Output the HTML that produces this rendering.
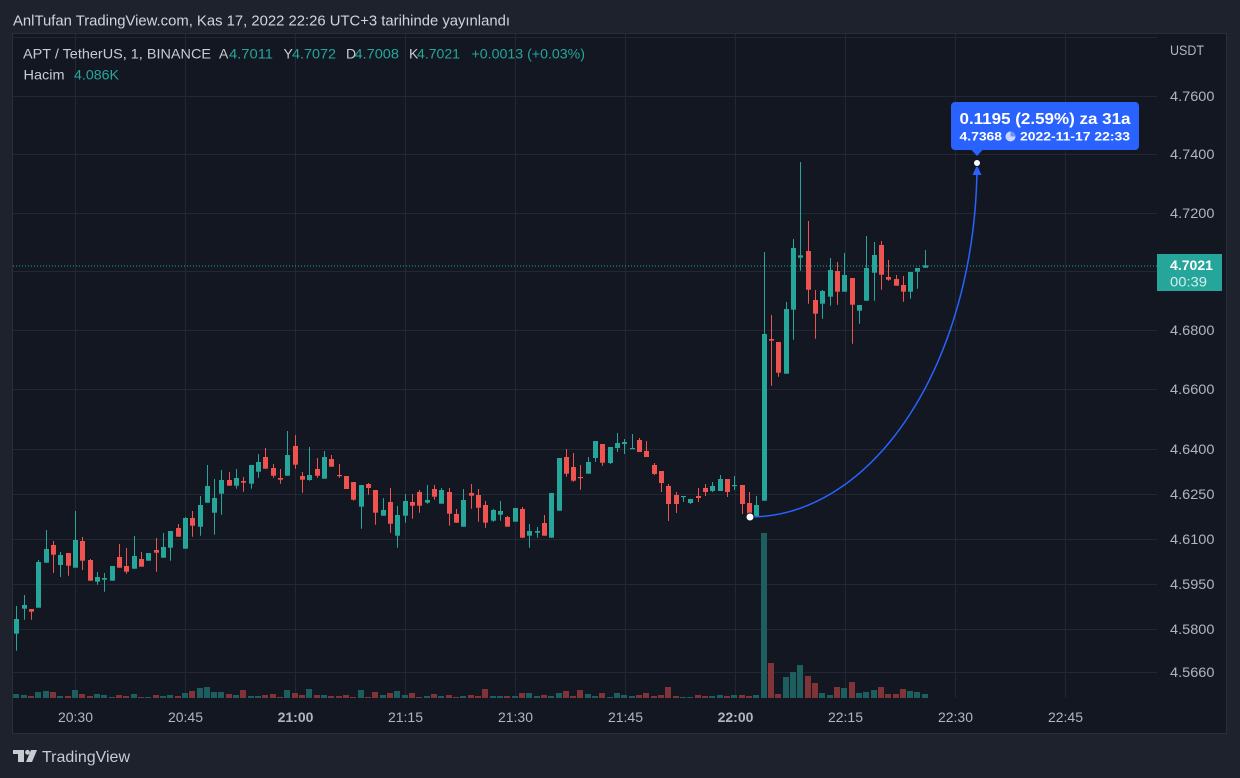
<!DOCTYPE html>
<html><head><meta charset="utf-8"><style>
html,body{margin:0;padding:0;background:#1e222d;}
svg{display:block;}
text{font-family:"Liberation Sans",sans-serif;}
</style></head><body>
<svg width="1240" height="778" viewBox="0 0 1240 778" xmlns="http://www.w3.org/2000/svg">
<rect x="0" y="0" width="1240" height="778" fill="#1e222d"/>
<text x="13" y="25.5" font-size="14.5" fill="#d1d4dc" textLength="497" lengthAdjust="spacingAndGlyphs">AnlTufan TradingView.com, Kas 17, 2022 22:26 UTC+3 tarihinde yayınlandı</text>
<rect x="12.5" y="33.5" width="1214" height="700" fill="#131722" stroke="#2a2e39" stroke-width="1"/>
<defs><clipPath id="pc"><rect x="13" y="34" width="1144" height="664"/></clipPath></defs>
<g stroke="#232733" stroke-width="1" fill="none">
<path d="M13 37.5H1157M13 96.5H1157M13 154.5H1157M13 213.5H1157M13 271.5H1157M13 330.5H1157M13 389.5H1157M13 449.5H1157M13 494.5H1157M13 539.5H1157M13 584.5H1157M13 629.5H1157M13 672.5H1157"/>
<path d="M75.5 34V698M185.5 34V698M295.5 34V698M405.5 34V698M515.5 34V698M625.5 34V698M735.5 34V698M845.5 34V698M955.5 34V698M1065.5 34V698"/>
</g>
<g clip-path="url(#pc)">
<g fill="#1d5e5e">
<rect x="13" y="694" width="6" height="5"/><rect x="21" y="695" width="6" height="4"/><rect x="35" y="692" width="6" height="7"/><rect x="43" y="691" width="6" height="8"/><rect x="57" y="696" width="6" height="3"/><rect x="72" y="690" width="6" height="9"/><rect x="94" y="694" width="6" height="5"/><rect x="101" y="695" width="6" height="4"/><rect x="109" y="697" width="6" height="2"/><rect x="131" y="694" width="6" height="5"/><rect x="145" y="697" width="6" height="2"/><rect x="160" y="696" width="6" height="3"/><rect x="167" y="695" width="6" height="4"/><rect x="182" y="693" width="6" height="6"/><rect x="197" y="688" width="6" height="11"/><rect x="204" y="687" width="6" height="12"/><rect x="211" y="692" width="6" height="7"/><rect x="218" y="692" width="6" height="7"/><rect x="233" y="695" width="6" height="4"/><rect x="248" y="696" width="6" height="3"/><rect x="255" y="696" width="6" height="3"/><rect x="284" y="690" width="6" height="9"/><rect x="306" y="689" width="6" height="10"/><rect x="321" y="695" width="6" height="4"/><rect x="358" y="690" width="6" height="9"/><rect x="380" y="695" width="6" height="4"/><rect x="394" y="691" width="6" height="8"/><rect x="402" y="695" width="6" height="4"/><rect x="424" y="696" width="6" height="3"/><rect x="438" y="696" width="6" height="3"/><rect x="460" y="696" width="6" height="3"/><rect x="490" y="696" width="6" height="3"/><rect x="497" y="696" width="6" height="3"/><rect x="512" y="696" width="6" height="3"/><rect x="526" y="693" width="6" height="6"/><rect x="534" y="696" width="6" height="3"/><rect x="548" y="696" width="6" height="3"/><rect x="556" y="693" width="6" height="6"/><rect x="585" y="694" width="6" height="5"/><rect x="592" y="696" width="6" height="3"/><rect x="607" y="697" width="6" height="2"/><rect x="614" y="693" width="6" height="6"/><rect x="621" y="695" width="6" height="4"/><rect x="629" y="696" width="6" height="3"/><rect x="680" y="697" width="6" height="2"/><rect x="687" y="697" width="6" height="2"/><rect x="709" y="696" width="6" height="3"/><rect x="717" y="695" width="6" height="4"/><rect x="731" y="695" width="6" height="4"/><rect x="753" y="695" width="6" height="4"/><rect x="761" y="533" width="6" height="166"/><rect x="783" y="677" width="6" height="22"/><rect x="790" y="672" width="6" height="27"/><rect x="797" y="665" width="6" height="34"/><rect x="819" y="693" width="6" height="6"/><rect x="827" y="695" width="6" height="4"/><rect x="841" y="688" width="6" height="11"/><rect x="856" y="693" width="6" height="6"/><rect x="863" y="692" width="6" height="7"/><rect x="871" y="690" width="6" height="9"/><rect x="907" y="691" width="6" height="8"/><rect x="914" y="692" width="6" height="7"/><rect x="922" y="694" width="6" height="5"/>
</g>
<g fill="#803438">
<rect x="28" y="696" width="6" height="3"/><rect x="50" y="692" width="6" height="7"/><rect x="65" y="696" width="6" height="3"/><rect x="79" y="694" width="6" height="5"/><rect x="87" y="696" width="6" height="3"/><rect x="116" y="695" width="6" height="4"/><rect x="123" y="696" width="6" height="3"/><rect x="138" y="697" width="6" height="2"/><rect x="153" y="695" width="6" height="4"/><rect x="175" y="696" width="6" height="3"/><rect x="189" y="691" width="6" height="8"/><rect x="226" y="694" width="6" height="5"/><rect x="240" y="690" width="6" height="9"/><rect x="262" y="695" width="6" height="4"/><rect x="270" y="694" width="6" height="5"/><rect x="277" y="697" width="6" height="2"/><rect x="292" y="693" width="6" height="6"/><rect x="299" y="695" width="6" height="4"/><rect x="314" y="695" width="6" height="4"/><rect x="328" y="696" width="6" height="3"/><rect x="336" y="696" width="6" height="3"/><rect x="343" y="695" width="6" height="4"/><rect x="350" y="697" width="6" height="2"/><rect x="365" y="697" width="6" height="2"/><rect x="372" y="692" width="6" height="7"/><rect x="387" y="693" width="6" height="6"/><rect x="409" y="693" width="6" height="6"/><rect x="416" y="697" width="6" height="2"/><rect x="431" y="694" width="6" height="5"/><rect x="446" y="695" width="6" height="4"/><rect x="453" y="697" width="6" height="2"/><rect x="468" y="695" width="6" height="4"/><rect x="475" y="696" width="6" height="3"/><rect x="482" y="689" width="6" height="10"/><rect x="504" y="696" width="6" height="3"/><rect x="519" y="693" width="6" height="6"/><rect x="541" y="695" width="6" height="4"/><rect x="563" y="691" width="6" height="8"/><rect x="570" y="696" width="6" height="3"/><rect x="577" y="690" width="6" height="9"/><rect x="599" y="693" width="6" height="6"/><rect x="636" y="695" width="6" height="4"/><rect x="643" y="693" width="6" height="6"/><rect x="651" y="696" width="6" height="3"/><rect x="658" y="695" width="6" height="4"/><rect x="665" y="687" width="6" height="12"/><rect x="673" y="696" width="6" height="3"/><rect x="695" y="695" width="6" height="4"/><rect x="702" y="696" width="6" height="3"/><rect x="724" y="696" width="6" height="3"/><rect x="739" y="695" width="6" height="4"/><rect x="746" y="696" width="6" height="3"/><rect x="768" y="663" width="6" height="36"/><rect x="775" y="694" width="6" height="5"/><rect x="805" y="676" width="6" height="23"/><rect x="812" y="683" width="6" height="16"/><rect x="834" y="687" width="6" height="12"/><rect x="849" y="682" width="6" height="17"/><rect x="878" y="687" width="6" height="12"/><rect x="885" y="694" width="6" height="5"/><rect x="893" y="694" width="6" height="5"/><rect x="900" y="689" width="6" height="10"/>
</g>
<path d="M13 266H1157" stroke="#26a69a" stroke-width="1" stroke-dasharray="1 2" fill="none"/>
<path stroke="#26a69a" stroke-width="1" fill="none" d="M16.5 606V650.7M24.5 595V619.7M38.5 560V607.7M46.5 530V562.7M60.5 552V577M75.5 511V567.7M97.5 572V584.7M104.5 573V591.7M112.5 566V580.7M134.5 536V568.7M148.5 553V560.7M163.5 533V557.7M170.5 531V560.7M185.5 517V548.7M200.5 496V535.7M207.5 465V502.7M214.5 479V534.7M221.5 470V514.7M236.5 469V488.7M251.5 465V488.7M258.5 454V477.7M287.5 431V475.7M309.5 447V480.7M324.5 451V478.7M361.5 485V528.7M383.5 498V515.7M397.5 506V547.7M405.5 494V522.7M427.5 485V503.7M441.5 488V503.7M463.5 489V526.7M493.5 509V521.7M500.5 501V520.7M515.5 508V521.7M529.5 524V547.7M537.5 527V537.7M551.5 493V537.7M559.5 458V510.7M588.5 457V473.7M595.5 441V461.7M610.5 447V464M617.5 433V452M624.5 439V454M632.5 434V449M683.5 496V502M690.5 499V504M712.5 482V492M720.5 475V491M734.5 476V490M756.5 496V516.7M764.5 252V500.7M786.5 302V373.7M793.5 239V339.7M800.5 162V270.7M822.5 290V318.7M830.5 258V305.7M844.5 253V291.7M859.5 305V323.7M866.5 236V300.7M874.5 242V300.7M910.5 272V298.7M917.5 268V288.7M925.5 250V267.7"/>
<g fill="#26a69a">
<rect x="14" y="619" width="5" height="14.7"/><rect x="22" y="605" width="5" height="3.7"/><rect x="36" y="562" width="5" height="45.7"/><rect x="44" y="549" width="5" height="13.7"/><rect x="58" y="555" width="5" height="10"/><rect x="73" y="540" width="5" height="27.7"/><rect x="95" y="577" width="5" height="4.7"/><rect x="102" y="578" width="5" height="1.7"/><rect x="110" y="566" width="5" height="14.7"/><rect x="132" y="556" width="5" height="12.7"/><rect x="146" y="553" width="5" height="7.7"/><rect x="161" y="547" width="5" height="10.7"/><rect x="168" y="531" width="5" height="16.7"/><rect x="183" y="518" width="5" height="30.7"/><rect x="198" y="505" width="5" height="21.7"/><rect x="205" y="486" width="5" height="16.7"/><rect x="212" y="498" width="5" height="14.7"/><rect x="219" y="480" width="5" height="13.7"/><rect x="234" y="478" width="5" height="7.7"/><rect x="249" y="465" width="5" height="18.7"/><rect x="256" y="462" width="5" height="9.7"/><rect x="285" y="455" width="5" height="20.7"/><rect x="307" y="475" width="5" height="5"/><rect x="322" y="457" width="5" height="21.7"/><rect x="359" y="485" width="5" height="21.7"/><rect x="381" y="510" width="5" height="5.7"/><rect x="395" y="515" width="5" height="20.7"/><rect x="403" y="501" width="5" height="14.7"/><rect x="425" y="500" width="5" height="2.7"/><rect x="439" y="490" width="5" height="13.7"/><rect x="461" y="500" width="5" height="26.7"/><rect x="491" y="510" width="5" height="10.7"/><rect x="498" y="511" width="5" height="3.7"/><rect x="513" y="508" width="5" height="13.7"/><rect x="527" y="531" width="5" height="4.7"/><rect x="535" y="531" width="5" height="1.7"/><rect x="549" y="493" width="5" height="44.7"/><rect x="557" y="458" width="5" height="52.7"/><rect x="586" y="462" width="5" height="11.7"/><rect x="593" y="441" width="5" height="17"/><rect x="608" y="447" width="5" height="16"/><rect x="615" y="443" width="5" height="5"/><rect x="622" y="442" width="5" height="2"/><rect x="630" y="448" width="5" height="1.2"/><rect x="681" y="496" width="5" height="1.2"/><rect x="688" y="499" width="5" height="4"/><rect x="710" y="486" width="5" height="5"/><rect x="718" y="479" width="5" height="12"/><rect x="732" y="485" width="5" height="1.2"/><rect x="754" y="505" width="5" height="11.7"/><rect x="762" y="334" width="5" height="166.7"/><rect x="784" y="309" width="5" height="64.7"/><rect x="791" y="248" width="5" height="61.7"/><rect x="798" y="255.3" width="5" height="2.4"/><rect x="820" y="291" width="5" height="12.7"/><rect x="828" y="270" width="5" height="26.7"/><rect x="842" y="275" width="5" height="16.7"/><rect x="857" y="305" width="5" height="5.7"/><rect x="864" y="268" width="5" height="32.7"/><rect x="872" y="255" width="5" height="17.7"/><rect x="908" y="272" width="5" height="19.7"/><rect x="915" y="268" width="5" height="3.7"/><rect x="923" y="265.3" width="5" height="2.4"/>
</g>
<path stroke="#ef5350" stroke-width="1" fill="none" d="M31.5 609V619.7M53.5 541V573M68.5 553V575.7M82.5 537V570M90.5 559V580.7M119.5 544V567.7M126.5 548V573.7M141.5 552V566.7M156.5 538V571.7M178.5 524V536.7M192.5 511V536.7M229.5 472V485.7M243.5 477V491.7M265.5 448V468.7M273.5 464V477.7M280.5 469V483.7M295.5 435V468.7M302.5 472V492.7M317.5 458V477.7M331.5 455V466.7M339.5 464V477.7M346.5 476V489M353.5 482V500.7M368.5 483V494.7M375.5 490V524.7M390.5 488V532.7M412.5 494V518.7M419.5 490V512.7M434.5 485V499.7M449.5 488V525.7M456.5 509V522.7M471.5 484V508.7M478.5 489V521.7M485.5 501V527.7M507.5 516V526.7M522.5 507V537.7M544.5 515V535.7M566.5 449V476.7M573.5 453V481.7M580.5 465V489.7M602.5 444V465.7M639.5 438V452M646.5 441V457M654.5 463V475M661.5 471V492M668.5 484V521M676.5 492V513M698.5 488V502M705.5 484V496M727.5 479V497M742.5 485V514M749.5 492V514M771.5 315V385.7M778.5 342V376.7M808.5 221V303.7M815.5 290V338.7M837.5 262V304.7M852.5 278V343.7M881.5 241V289.7M888.5 260V280.7M896.5 275V285.7M903.5 276V301.7"/>
<g fill="#ef5350">
<rect x="29" y="609" width="5" height="2.7"/><rect x="51" y="545" width="5" height="9.7"/><rect x="66" y="553" width="5" height="12.7"/><rect x="80" y="541" width="5" height="19.7"/><rect x="88" y="560" width="5" height="20.7"/><rect x="117" y="557" width="5" height="10.7"/><rect x="124" y="566" width="5" height="5.7"/><rect x="139" y="559" width="5" height="7.7"/><rect x="154" y="550" width="5" height="2.7"/><rect x="176" y="528" width="5" height="8.7"/><rect x="190" y="518" width="5" height="7.7"/><rect x="227" y="480" width="5" height="5.7"/><rect x="241" y="481" width="5" height="1.7"/><rect x="263" y="457" width="5" height="11.7"/><rect x="271" y="468" width="5" height="7.7"/><rect x="278" y="478" width="5" height="1.7"/><rect x="293" y="446" width="5" height="18.7"/><rect x="300" y="476" width="5" height="3.7"/><rect x="315" y="469" width="5" height="6.7"/><rect x="329" y="459" width="5" height="7.7"/><rect x="337" y="475" width="5" height="1.2"/><rect x="344" y="476" width="5" height="13"/><rect x="351" y="482" width="5" height="17.7"/><rect x="366" y="484" width="5" height="4"/><rect x="373" y="490" width="5" height="22.7"/><rect x="388" y="502" width="5" height="21.7"/><rect x="410" y="502" width="5" height="3.7"/><rect x="417" y="492" width="5" height="13.7"/><rect x="432" y="489" width="5" height="7.7"/><rect x="447" y="492" width="5" height="21.7"/><rect x="454" y="514" width="5" height="8.7"/><rect x="469" y="493" width="5" height="2.7"/><rect x="476" y="495" width="5" height="12.7"/><rect x="483" y="505" width="5" height="17.7"/><rect x="505" y="517" width="5" height="9.7"/><rect x="520" y="509" width="5" height="28.7"/><rect x="542" y="523" width="5" height="12.7"/><rect x="564" y="457" width="5" height="16.7"/><rect x="571" y="467" width="5" height="13.7"/><rect x="578" y="477" width="5" height="1.2"/><rect x="600" y="444" width="5" height="18.7"/><rect x="637" y="440" width="5" height="12"/><rect x="644" y="451" width="5" height="6"/><rect x="652" y="465" width="5" height="9"/><rect x="659" y="471" width="5" height="12"/><rect x="666" y="486" width="5" height="18"/><rect x="674" y="495" width="5" height="9"/><rect x="696" y="496" width="5" height="2"/><rect x="703" y="488" width="5" height="4"/><rect x="725" y="479" width="5" height="13"/><rect x="740" y="485" width="5" height="19"/><rect x="747" y="503" width="5" height="11"/><rect x="769" y="339" width="5" height="1.7"/><rect x="776" y="342" width="5" height="30.7"/><rect x="806" y="251" width="5" height="38.7"/><rect x="813" y="300" width="5" height="13.7"/><rect x="835" y="271" width="5" height="20.7"/><rect x="850" y="278" width="5" height="26.7"/><rect x="879" y="245" width="5" height="29.7"/><rect x="886" y="277" width="5" height="2.7"/><rect x="894" y="279" width="5" height="6.7"/><rect x="901" y="285" width="5" height="6.7"/>
</g>
<path d="M750 517 A227 354 0 0 0 977 166" stroke="#2962ff" stroke-width="1.5" fill="none"/>
<polygon points="977,165 972.5,175 981.5,175" fill="#2962ff"/>
<circle cx="750" cy="517" r="4" fill="#ffffff" stroke="#131722" stroke-width="1"/>
<circle cx="977" cy="163" r="3.5" fill="#ffffff" stroke="#131722" stroke-width="1"/>
<rect x="951" y="102" width="188" height="48" rx="4" fill="#2962ff"/>
<polygon points="971,149.5 983,149.5 977,156" fill="#2962ff"/>
<text x="959.5" y="124" font-size="16" font-weight="bold" fill="#ffffff" textLength="171" lengthAdjust="spacingAndGlyphs">0.1195 (2.59%) za 31a</text>
<text x="959.5" y="140.5" font-size="12" font-weight="bold" fill="#ffffff" textLength="42.5" lengthAdjust="spacingAndGlyphs">4.7368</text>
<circle cx="1010.5" cy="136.5" r="5" fill="#c9d5ff"/>
<path d="M1010.5 136.5V131.5A5 5 0 0 1 1015.5 136.5Z" fill="#6f8fff"/>
<text x="1020" y="140.5" font-size="12" font-weight="bold" fill="#ffffff" textLength="110" lengthAdjust="spacingAndGlyphs">2022-11-17  22:33</text>
</g>
<text x="23" y="58.5" font-size="14" fill="#c8cbd3" textLength="188" lengthAdjust="spacingAndGlyphs">APT / TetherUS, 1, BINANCE</text>
<text x="219" y="58.5" font-size="14" fill="#c8cbd3">A</text>
<text x="229" y="58.5" font-size="14" fill="#26a69a" textLength="44" lengthAdjust="spacingAndGlyphs">4.7011</text>
<text x="283.5" y="58.5" font-size="14" fill="#c8cbd3">Y</text>
<text x="292" y="58.5" font-size="14" fill="#26a69a" textLength="44" lengthAdjust="spacingAndGlyphs">4.7072</text>
<text x="346" y="58.5" font-size="14" fill="#c8cbd3">D</text>
<text x="354.5" y="58.5" font-size="14" fill="#26a69a" textLength="44.5" lengthAdjust="spacingAndGlyphs">4.7008</text>
<text x="409" y="58.5" font-size="14" fill="#c8cbd3">K</text>
<text x="417" y="58.5" font-size="14" fill="#26a69a" textLength="43" lengthAdjust="spacingAndGlyphs">4.7021</text>
<text x="471.5" y="58.5" font-size="14" fill="#26a69a" textLength="113.5" lengthAdjust="spacingAndGlyphs">+0.0013 (+0.03%)</text>
<text x="23.5" y="79.5" font-size="14" fill="#c8cbd3" textLength="41" lengthAdjust="spacingAndGlyphs">Hacim</text>
<text x="74" y="79.5" font-size="14" fill="#26a69a" textLength="45" lengthAdjust="spacingAndGlyphs">4.086K</text>
<g font-size="14" fill="#b2b5be">
<text x="1170" y="55" textLength="34" lengthAdjust="spacingAndGlyphs">USDT</text>
<text x="1170" y="101" textLength="44.5" lengthAdjust="spacingAndGlyphs">4.7600</text>
<text x="1170" y="159" textLength="44.5" lengthAdjust="spacingAndGlyphs">4.7400</text>
<text x="1170" y="218" textLength="44.5" lengthAdjust="spacingAndGlyphs">4.7200</text>
<text x="1170" y="335" textLength="44.5" lengthAdjust="spacingAndGlyphs">4.6800</text>
<text x="1170" y="394" textLength="44.5" lengthAdjust="spacingAndGlyphs">4.6600</text>
<text x="1170" y="454" textLength="44.5" lengthAdjust="spacingAndGlyphs">4.6400</text>
<text x="1170" y="499" textLength="44.5" lengthAdjust="spacingAndGlyphs">4.6250</text>
<text x="1170" y="544" textLength="44.5" lengthAdjust="spacingAndGlyphs">4.6100</text>
<text x="1170" y="589" textLength="44.5" lengthAdjust="spacingAndGlyphs">4.5950</text>
<text x="1170" y="634" textLength="44.5" lengthAdjust="spacingAndGlyphs">4.5800</text>
<text x="1170" y="677" textLength="44.5" lengthAdjust="spacingAndGlyphs">4.5660</text>
</g>
<rect x="1157" y="254" width="65" height="37" fill="#26a69a"/>
<text x="1170" y="270" font-size="14" font-weight="bold" fill="#ffffff" textLength="43" lengthAdjust="spacingAndGlyphs">4.7021</text>
<text x="1170" y="286.5" font-size="14" fill="#d4efec" textLength="37" lengthAdjust="spacingAndGlyphs">00:39</text>
<g font-size="14" fill="#b2b5be" text-anchor="middle">
<text x="75.5" y="722">20:30</text>
<text x="185.5" y="722">20:45</text>
<text x="295.5" y="722" font-weight="bold">21:00</text>
<text x="405.5" y="722">21:15</text>
<text x="515.5" y="722">21:30</text>
<text x="625.5" y="722">21:45</text>
<text x="735.5" y="722" font-weight="bold">22:00</text>
<text x="845.5" y="722">22:15</text>
<text x="955.5" y="722">22:30</text>
<text x="1065.5" y="722">22:45</text>
</g>
<g fill="#c9cbd2">
<rect x="13" y="750" width="11" height="4"/>
<rect x="18" y="750" width="6" height="12"/>
<circle cx="27.5" cy="752.3" r="2.4"/>
<polygon points="31,750 37,750 32,762 26,762"/>
</g>
<text x="42" y="762" font-size="16" fill="#c9cbd2" textLength="88" lengthAdjust="spacingAndGlyphs">TradingView</text>
</svg>
</body></html>
